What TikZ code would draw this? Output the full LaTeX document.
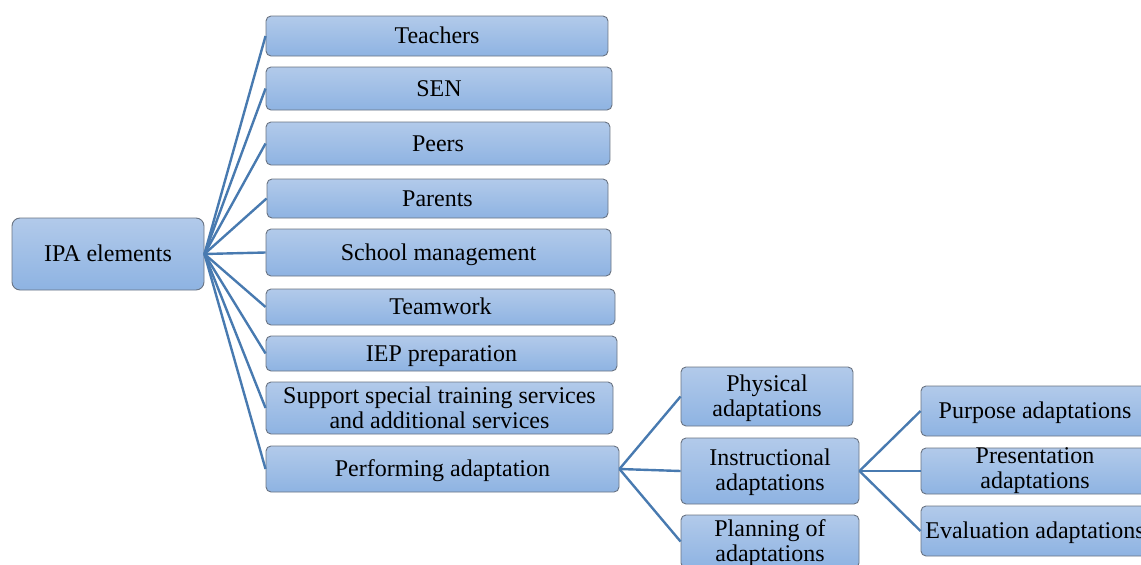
\documentclass[tikz,border=0pt]{standalone}
\usepackage{fontspec}
\setmainfont{Liberation Serif}
\definecolor{boxtop}{RGB}{178,202,234}
\definecolor{boxbot}{RGB}{142,179,226}
\definecolor{boxline}{RGB}{105,115,130}
\definecolor{linkblue}{RGB}{72,122,176}
% strut giving each text line the same height and depth
\newcommand\lnstrut{\rule[-4.5pt]{0pt}{24pt}}
\begin{document}
\begin{tikzpicture}[x=1pt,y=-1pt,
  box/.style={draw=boxline, line width=0.9pt, rounded corners=5pt,
    top color=boxtop, bottom color=boxbot, inner sep=0pt,
    font=\fontsize{24}{25}\selectfont, text=black},
  one/.style={box, text height=19.5pt, text depth=4.5pt},
  two/.style={box, align=center},
  link/.style={draw=linkblue, line width=2.4pt}]
\useasboundingbox (0,0) rectangle (1141,565);
\clip (0,0) rectangle (1141,565);

% root
\node[one, rounded corners=8pt, minimum width=192, minimum height=72] (ipa) at (108,254) {IPA elements};

% first level
\node[one, minimum width=342, minimum height=40] (teach)   at (437,36)    {Teachers};
\node[one, minimum width=346, minimum height=43] (sen)     at (439,88.5)  {SEN};
\node[one, minimum width=344, minimum height=43] (peers)   at (438,143.5) {Peers};
\node[one, minimum width=341, minimum height=39] (parents) at (437.5,198.5) {Parents};
\node[one, minimum width=345, minimum height=47] (school)  at (438.5,252.5) {School management};
\node[one, minimum width=349, minimum height=36] (team)    at (440.5,307) {Teamwork};
\node[one, minimum width=351, minimum height=35] (iep)     at (441.5,353.5) {IEP preparation};
\node[two, minimum width=347, minimum height=52] (support) at (439.5,408) {\lnstrut Support special training services\\\lnstrut and additional services};
\node[one, minimum width=353, minimum height=46] (perf)    at (442.5,469) {Performing adaptation};

% second level
\node[two, minimum width=172, minimum height=59] (phys)  at (767,396.5) {\lnstrut Physical\\\lnstrut adaptations};
\node[two, minimum width=178, minimum height=66] (instr) at (770,471)   {\lnstrut Instructional\\\lnstrut adaptations};
\node[two, minimum width=178, minimum height=53] (plan)  at (770,541.5) {\lnstrut Planning of\\\lnstrut adaptations};

% third level
\node[one, minimum width=228, minimum height=50] (purp) at (1035,411) {Purpose adaptations};
\node[two, minimum width=228, minimum height=46] (pres) at (1035,471) {Presentation\\adaptations};
\node[one, minimum width=228, minimum height=50] (eval) at (1035,531) {Evaluation adaptations};

% connectors
\foreach \n in {teach,sen,peers,parents,school,team,iep,support,perf}
  \draw[link] (ipa.east) -- (\n.west);
\foreach \n in {phys,instr,plan}
  \draw[link] (perf.east) -- (\n.west);
\foreach \n in {purp,pres,eval}
  \draw[link] (instr.east) -- (\n.west);
\end{tikzpicture}
\end{document}
